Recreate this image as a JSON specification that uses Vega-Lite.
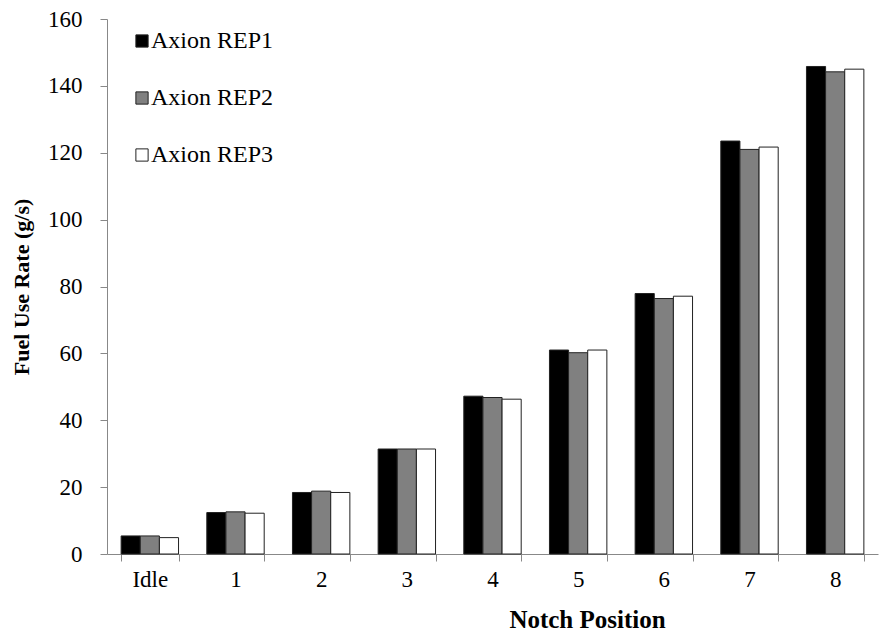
{
  "$schema": "https://vega.github.io/schema/vega-lite/v6.json",
  "autosize": {"type": "none"},
  "width": 771,
  "height": 535,
  "padding": {"left": 107, "top": 19, "right": 1, "bottom": 82},
  "background": "white",
  "config": {
    "view": {"stroke": null},
    "font": "Liberation Serif",
    "axis": {
      "labelFont": "Liberation Serif",
      "labelFontSize": 23,
      "labelColor": "black",
      "titleFont": "Liberation Serif",
      "titleFontWeight": "bold",
      "titleColor": "black",
      "tickColor": "#888888",
      "domainColor": "#888888",
      "tickSize": 7,
      "grid": false
    },
    "legend": {
      "labelFont": "Liberation Serif",
      "labelFontSize": 24,
      "labelColor": "black",
      "labelLimit": 300
    }
  },
  "data": {
    "values": [
      {"notch": "Idle", "rep": "Axion REP1", "rate": 5.4},
      {"notch": "Idle", "rep": "Axion REP2", "rate": 5.4},
      {"notch": "Idle", "rep": "Axion REP3", "rate": 4.9},
      {"notch": "1", "rep": "Axion REP1", "rate": 12.4},
      {"notch": "1", "rep": "Axion REP2", "rate": 12.6},
      {"notch": "1", "rep": "Axion REP3", "rate": 12.2},
      {"notch": "2", "rep": "Axion REP1", "rate": 18.4},
      {"notch": "2", "rep": "Axion REP2", "rate": 18.8},
      {"notch": "2", "rep": "Axion REP3", "rate": 18.4},
      {"notch": "3", "rep": "Axion REP1", "rate": 31.4},
      {"notch": "3", "rep": "Axion REP2", "rate": 31.4},
      {"notch": "3", "rep": "Axion REP3", "rate": 31.4},
      {"notch": "4", "rep": "Axion REP1", "rate": 47.2},
      {"notch": "4", "rep": "Axion REP2", "rate": 46.8},
      {"notch": "4", "rep": "Axion REP3", "rate": 46.3},
      {"notch": "5", "rep": "Axion REP1", "rate": 61.0},
      {"notch": "5", "rep": "Axion REP2", "rate": 60.2},
      {"notch": "5", "rep": "Axion REP3", "rate": 61.0},
      {"notch": "6", "rep": "Axion REP1", "rate": 77.9},
      {"notch": "6", "rep": "Axion REP2", "rate": 76.4},
      {"notch": "6", "rep": "Axion REP3", "rate": 77.1},
      {"notch": "7", "rep": "Axion REP1", "rate": 123.5},
      {"notch": "7", "rep": "Axion REP2", "rate": 121.0},
      {"notch": "7", "rep": "Axion REP3", "rate": 121.7},
      {"notch": "8", "rep": "Axion REP1", "rate": 145.8},
      {"notch": "8", "rep": "Axion REP2", "rate": 144.2},
      {"notch": "8", "rep": "Axion REP3", "rate": 145.0}
    ]
  },
  "mark": {"type": "bar", "stroke": "#222222", "strokeWidth": 1},
  "encoding": {
    "x": {
      "field": "notch",
      "type": "nominal",
      "sort": ["Idle", "1", "2", "3", "4", "5", "6", "7", "8"],
      "scale": {"paddingInner": 0.33, "paddingOuter": 0.165},
      "axis": {
        "title": "Notch Position",
        "titleFontSize": 25,
        "titleX": 480,
        "titleY": 53,
        "labelAngle": 0,
        "labelPadding": 7,
        "tickBand": "extent"
      }
    },
    "xOffset": {
      "field": "rep",
      "type": "nominal",
      "scale": {"paddingInner": 0, "paddingOuter": 0}
    },
    "y": {
      "field": "rate",
      "type": "quantitative",
      "scale": {"domain": [0, 160], "nice": false},
      "axis": {
        "title": "Fuel Use Rate (g/s)",
        "titleFontSize": 22,
        "titlePadding": 14,
        "values": [0, 20, 40, 60, 80, 100, 120, 140, 160],
        "labelPadding": 18
      }
    },
    "fill": {
      "field": "rep",
      "type": "nominal",
      "scale": {
        "domain": ["Axion REP1", "Axion REP2", "Axion REP3"],
        "range": ["#000000", "#808080", "#ffffff"]
      },
      "legend": {
        "title": null,
        "orient": "none",
        "legendX": 23,
        "legendY": 10,
        "symbolType": "square",
        "symbolSize": 150,
        "symbolStrokeColor": "#222222",
        "symbolStrokeWidth": 1,
        "labelOffset": -3,
        "rowPadding": 33
      }
    }
  }
}
